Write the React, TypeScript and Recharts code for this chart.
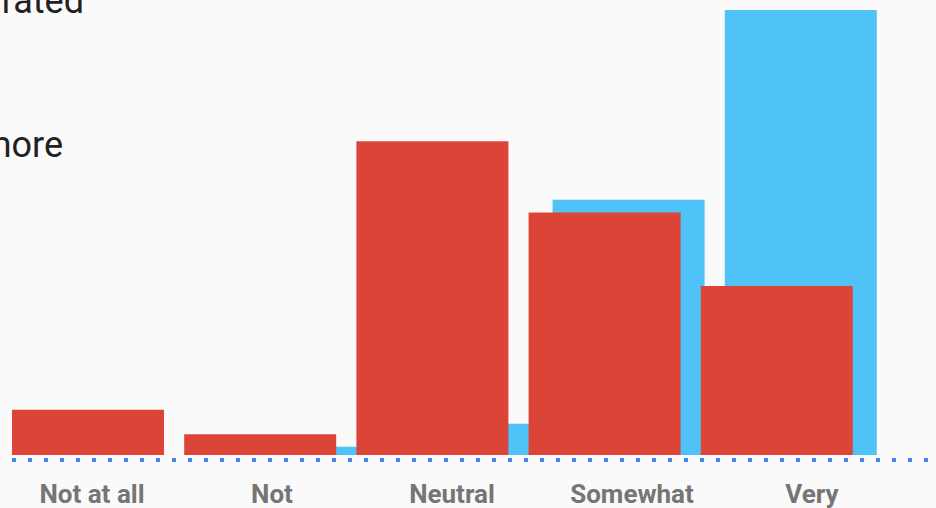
import { BarChart, Bar, XAxis, YAxis } from "recharts";

// Share of answers per rating, two groups (in %).
const categories = ["Not at all", "Not", "Neutral", "Somewhat", "Very"];
const groupRed = [6.1, 2.8, 42.3, 32.7, 22.8];
const groupBlue = [0, 1.1, 4.2, 34.4, 60];

const data = categories.map((c, i) => ({ category: c, red: groupRed[i], blue: groupBlue[i] }));

const RED = "#DB4437";
const BLUE = "#4FC3F7";

// eslint-disable-next-line @typescript-eslint/no-explicit-any
const CategoryTick = (props: any) => {
  const { x, y, payload } = props;
  return (
    <text x={x} y={y} dy={43} textAnchor="middle" fontFamily="Roboto" fontWeight={700} fontSize={26} fill="#757575">
      {payload.value}
    </text>
  );
};

export default function App() {
  return (
    <div style={{ position: "relative", width: 936, height: 508, background: "#FAFAFA", overflow: "hidden" }}>
      <style>{`body{margin:0}`}</style>
      <BarChart width={936} height={508} data={data} margin={{ top: 10, right: 0, bottom: 0, left: 0 }}>
        <YAxis hide domain={[-0.674, 60]} />
        {/* hidden axes that only place the two offset bar series */}
        <XAxis xAxisId="blue" dataKey="category" hide height={0} padding={{ left: 26, right: 49 }} />
        <XAxis xAxisId="red" dataKey="category" hide height={0} padding={{ left: 2, right: 73 }} />
        <XAxis
          xAxisId="labels"
          dataKey="category"
          padding={{ left: 2, right: 34 }}
          height={48}
          tickLine={false}
          tickSize={0}
          tickMargin={0}
          axisLine={{ stroke: "#4285F4", strokeWidth: 4, strokeDasharray: "4 12", strokeDashoffset: 4 }}
          tick={CategoryTick}
          interval={0}
        />
        <Bar xAxisId="blue" dataKey="blue" fill={BLUE} barSize={152} isAnimationActive={false} />
        <Bar xAxisId="red" dataKey="red" fill={RED} barSize={152} isAnimationActive={false} />
      </BarChart>
      <svg width={936} height={508} style={{ position: "absolute", left: 0, top: 0, pointerEvents: "none" }}>
        <text x={84} y={13} textAnchor="end" fontFamily="Roboto" fontSize={36} fill="#212121">rated</text>
        <text x={63} y={157} textAnchor="end" fontFamily="Roboto" fontSize={36} fill="#212121">more</text>
      </svg>
    </div>
  );
}
